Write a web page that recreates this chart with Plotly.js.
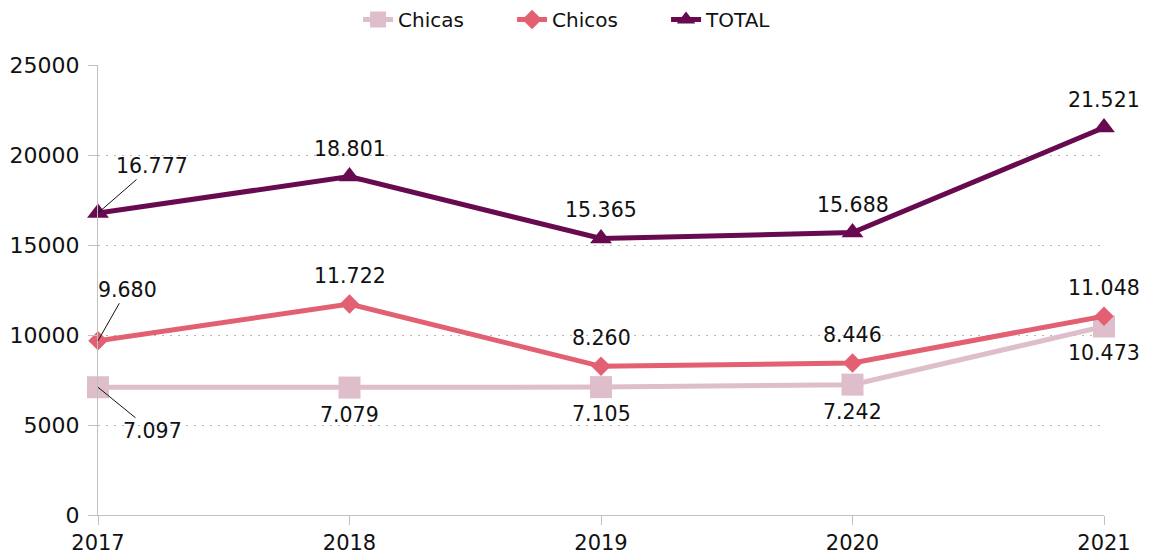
<!DOCTYPE html>
<html>
<head>
<meta charset="utf-8">
<script src="https://cdn.plot.ly/plotly-3.0.1.min.js"></script>
<style>html,body{margin:0;padding:0;background:#fff;}#chart{width:1155px;height:556px;}</style>
</head>
<body>
<div id="chart"></div>
<script>
var years = [2017, 2018, 2019, 2020, 2021];
var chicas = [7097, 7079, 7105, 7242, 10473];
var chicos = [9680, 11722, 8260, 8446, 11048];
var total = [16777, 18801, 15365, 15688, 21521];
var yTicks = [0, 5000, 10000, 15000, 20000, 25000];

function fmt(v) {
  var s = String(v);
  return s.replace(/\B(?=(\d{3})+(?!\d))/g, '.');
}

var FONT = 'DejaVu Sans, Verdana, sans-serif';
var cChicas = 'rgb(222,190,202)';
var cChicos = 'rgb(226,96,113)';
var cTotal = 'rgb(104,10,80)';

var traces = [
  {x: years, y: chicas, name: 'Chicas', type: 'scatter', mode: 'lines+markers', cliponaxis: false,
   line: {color: cChicas, width: 5}, marker: {symbol: 'square', size: 22, color: cChicas}},
  {x: years, y: chicos, name: 'Chicos', type: 'scatter', mode: 'lines+markers', cliponaxis: false,
   line: {color: cChicos, width: 5}, marker: {symbol: 'diamond', size: 15, color: cChicos}},
  {x: years, y: total, name: 'TOTAL', type: 'scatter', mode: 'lines+markers', cliponaxis: false,
   line: {color: cTotal, width: 5}, marker: {symbol: 'triangle-up', size: 19, color: cTotal}}
];

var totalOff = [[54, -47, true], [0, 28], [0, 28], [0, 28], [0, 28]];
var chicosOff = [[29, -51, true], [0, 28], [0, 28], [0, 28], [0, 28]];
var chicasOff = [[54, 44, true], [0, -27], [0, -27], [0, -27], [0, -27]];

var annotations = [];
function addLabels(vals, offs) {
  for (var i = 0; i < years.length; i++) {
    var o = offs[i];
    var a = {x: years[i], y: vals[i], xref: 'x', yref: 'y', text: fmt(vals[i]),
             font: {family: FONT, size: 20.5, color: '#111'}};
    if (o[2]) {
      a.showarrow = true; a.arrowhead = 0; a.arrowwidth = 1; a.arrowcolor = '#111';
      a.ax = o[0]; a.ay = o[1]; a.standoff = 0;
    } else {
      a.showarrow = false; a.yshift = o[1]; a.xshift = o[0];
    }
    annotations.push(a);
  }
}
addLabels(total, totalOff);
addLabels(chicos, chicosOff);
addLabels(chicas, chicasOff);

var layout = {
  width: 1155, height: 556,
  margin: {l: 98, r: 51, t: 65, b: 41},
  paper_bgcolor: '#fff', plot_bgcolor: '#fff',
  font: {family: FONT, size: 20, color: '#111'},
  showlegend: true,
  legend: {orientation: 'h', xref: 'container', x: 0.51, xanchor: 'center', y: 1.0, yref: 'container', yanchor: 'top',
           font: {family: FONT, size: 20, color: '#111'}, entrywidth: 109, entrywidthmode: 'pixels',
           traceorder: 'normal'},
  xaxis: {range: [2017, 2021], tickvals: years, ticktext: years.map(String), showgrid: false,
          zeroline: false, showline: true, linecolor: '#c0c0c0', linewidth: 1,
          ticks: 'outside', ticklen: 9, tickcolor: '#c0c0c0', tickfont: {family: FONT, size: 21, color: '#111'}},
  yaxis: {range: [0, 25000], tickvals: yTicks, ticktext: yTicks.map(String), showgrid: true,
          gridcolor: '#b8b8b8', griddash: '2px,6px', gridwidth: 1, zeroline: false,
          showline: true, linecolor: '#c0c0c0', linewidth: 1, ticklabelstandoff: 4,
          ticks: 'outside', ticklen: 9, tickcolor: '#c0c0c0', tickfont: {family: FONT, size: 22, color: '#111'}},
  annotations: annotations
};

Plotly.newPlot('chart', traces, layout, {displayModeBar: false, staticPlot: true});
</script>
</body>
</html>
